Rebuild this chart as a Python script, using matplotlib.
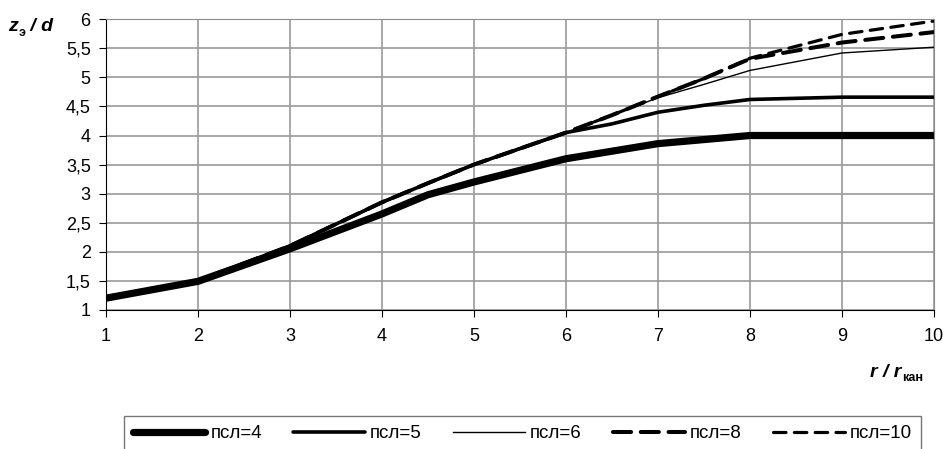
import numpy as np
import matplotlib.pyplot as plt
from matplotlib.transforms import offset_copy

plt.rcParams['font.family'] = ['Liberation Sans', 'DejaVu Sans']
plt.rcParams['lines.scale_dashes'] = False

# r / r_kan
x = [1, 2, 3, 4, 4.5, 5, 6, 6.5, 7, 7.5, 8, 9, 10]
n4 = [1.2, 1.49, 2.05, 2.65, 2.98, 3.2, 3.6, 3.73, 3.86, 3.93, 4.0, 4.0, 4.0]
n5 = [1.22, 1.5, 2.1, 2.85, 3.18, 3.5, 4.05, 4.2, 4.4, 4.52, 4.62, 4.66, 4.66]
n6 = [1.22, 1.5, 2.1, 2.85, 3.18, 3.5, 4.05, 4.35, 4.65, 4.88, 5.12, 5.42, 5.52]
n8 = [1.22, 1.5, 2.1, 2.85, 3.18, 3.5, 4.05, 4.35, 4.67, 4.98, 5.32, 5.6, 5.78]
n10 = [1.22, 1.5, 2.1, 2.85, 3.18, 3.5, 4.05, 4.35, 4.67, 4.98, 5.33, 5.74, 5.97]
names = ['пcл=4', 'пcл=5', 'пcл=6', 'пcл=8', 'пcл=10']

yticks = [1, 1.5, 2, 2.5, 3, 3.5, 4, 4.5, 5, 5.5, 6]
ylabels = ['1', '1,5', '2', '2,5', '3', '3,5', '4', '4,5', '5', '5,5', '6']
xticks = [1, 2, 3, 4, 5, 6, 7, 8, 9, 10]

fig = plt.figure(figsize=(9.44, 4.49), dpi=100)
ax = fig.add_axes([0.1123, 0.31, 0.877, 0.647])

ax.plot(x, n4, color='black', lw=5.2, solid_capstyle='round', label=names[0])
ax.plot(x, n5, color='black', lw=2.6, solid_capstyle='round', label=names[1])
ax.plot(x, n6, color='black', lw=1.0, label=names[2])
ax.plot(x, n8, color='black', lw=2.9, dashes=(13, 7), dash_capstyle='round', label=names[3])
ax.plot(x, n10, color='black', lw=2.3, dashes=(9, 6), dash_capstyle='round', label=names[4])

ax.set_xlim(1, 10)
ax.set_ylim(1, 6)
ax.set_xticks(xticks)
ax.set_yticks(yticks)
ax.set_yticklabels(ylabels)
ax.tick_params(labelsize=13, direction='out', length=5, color='black')
ax.tick_params(axis='x', pad=8)
ax.tick_params(axis='y', pad=6)
ax.grid(True, color='#9a9a9a', lw=1.2)
ax.set_axisbelow(True)
for s in ['top', 'right']:
    ax.spines[s].set_color('#8c8c8c')
for s in ['left', 'bottom']:
    ax.spines[s].set_color('black')


def label(x0, y0, parts):
    # parts: (text, size, italic, dy in points)
    t = fig.transFigure
    r = fig.canvas.get_renderer()
    for s, size, it, dy in parts:
        txt = fig.text(x0, y0, s, fontsize=size, fontweight='bold',
                       style='italic' if it else 'normal',
                       transform=offset_copy(t, fig=fig, y=dy, units='points'))
        bb = txt.get_window_extent(r)
        x0 = bb.x1 / fig.bbox.width


label(0.009, 0.930, [('z', 14, True, 0), ('э', 9, False, -3), (' / d', 14, True, 0)])
label(0.922, 0.16, [('r / r', 14, True, 0), ('кан', 9, False, -3)])

leg = fig.legend(loc='upper left', bbox_to_anchor=(0.131, 0.0735), ncol=5,
                 fontsize=13.5, frameon=True, fancybox=False, handlelength=3.85,
                 handletextpad=0.27, columnspacing=1.65, borderpad=0.5,
                 borderaxespad=0)
leg.get_frame().set_edgecolor('#555555')
leg.get_frame().set_linewidth(1.0)

fig.savefig('out.png', dpi=100)
